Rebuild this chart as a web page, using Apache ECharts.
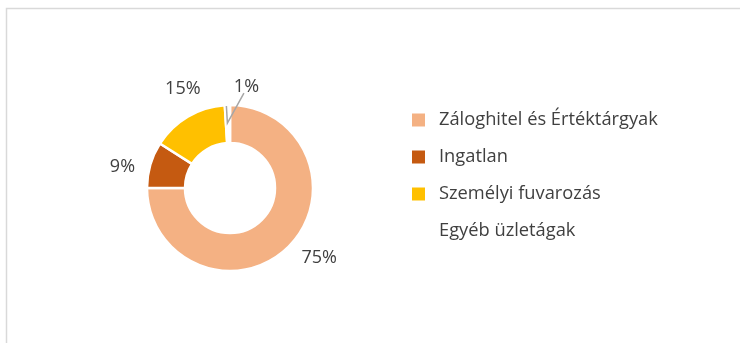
<!DOCTYPE html>
<html>
<head>
<meta charset="utf-8">
<script src="https://cdn.jsdelivr.net/npm/echarts@6/dist/echarts.min.js"></script>
<style>
  html, body { margin: 0; padding: 0; background: #fff; }
  #chart { width: 740px; height: 343px; }
</style>
</head>
<body>
<div id="chart"></div>
<script>
// Business segments and their shares (%)
const segments = ['Záloghitel és Értéktárgyak', 'Ingatlan', 'Személyi fuvarozás', 'Egyéb üzletágak'];
const shares = [75, 9, 15, 1];
const colors = ['#F4B183', '#C55A11', '#FFC000', '#FFFFFF'];

// small nudges so the labels sit where a "best fit" layout puts them
const labelNudge = [[-2, -2], [4, 7], [24, -12], [34, -6]];

const CENTER = [230, 188];
const RADIUS = [45, 83];
const labelFont = { fontFamily: 'Open Sans', fontSize: 18, color: '#404040' };

const chart = echarts.init(document.getElementById('chart'));

// ring itself: the tiny last slice gets its label from the overlay below
const ringData = segments.map((name, i) => ({
  name: name,
  value: shares[i],
  itemStyle: { color: colors[i] },
  label: { show: i !== 3 }
}));

// transparent copy drawn on top, carrying only the leader-lined label of the tiny slice
const overlayData = segments.map((name, i) => ({
  name: name,
  value: shares[i],
  label: { show: i === 3 },
  labelLine: { show: i === 3 }
}));

function nudge(p) {
  const n = labelNudge[p.dataIndex];
  return { dx: n[0], dy: n[1] };
}

chart.setOption({
  animation: false,
  graphic: [{
    type: 'rect',
    shape: { x: 6.5, y: 8.5, width: 900, height: 500 },
    style: { fill: 'none', stroke: '#D9D9D9', lineWidth: 1.5 },
    silent: true
  }],
  legend: {
    orient: 'vertical',
    left: 410,
    top: 108,
    padding: 0,
    itemWidth: 15,
    itemHeight: 15,
    itemGap: 13,
    icon: 'rect',
    textStyle: { fontFamily: 'Open Sans', fontSize: 18.3, color: '#404040', lineHeight: 24, padding: [0, 0, 0, 8] },
    data: segments
  },
  series: [{
    type: 'pie',
    z: 2,
    center: CENTER,
    radius: RADIUS,
    startAngle: 90,
    clockwise: true,
    avoidLabelOverlap: false,
    itemStyle: { borderColor: '#FFFFFF', borderWidth: 2.5 },
    label: Object.assign({ position: 'outside', formatter: '{c}%', distanceToLabelLine: 2 }, labelFont),
    labelLine: { show: false, length: 18, length2: 0 },
    labelLayout: nudge,
    emphasis: { disabled: true },
    data: ringData
  }, {
    type: 'pie',
    z: 3,
    silent: true,
    legendHoverLink: false,
    center: CENTER,
    radius: RADIUS,
    startAngle: 90,
    clockwise: true,
    avoidLabelOverlap: false,
    itemStyle: { color: 'rgba(0,0,0,0)', borderWidth: 0 },
    label: Object.assign({ position: 'outside', formatter: '{c}%', distanceToLabelLine: 2 }, labelFont),
    labelLine: { length: 12, length2: 0, lineStyle: { color: '#A6A6A6', width: 1.5 } },
    labelLayout: function (p) {
      const out = nudge(p);
      const pts = p.labelLinePoints;
      if (pts) {
        // leader line dips into the thin slice, then rises to the label's lower edge
        const r = p.labelRect;
        const top = [pts[0][0] - 1, pts[0][1] + 1];
        const dip = [pts[0][0], pts[0][1] + 18];
        const end = [r.x + out.dx + r.width * 0.4, r.y + out.dy + r.height - 3];
        out.labelLinePoints = [top, dip, end];
      }
      return out;
    },
    emphasis: { disabled: true },
    data: overlayData
  }]
});
</script>
</body>
</html>
